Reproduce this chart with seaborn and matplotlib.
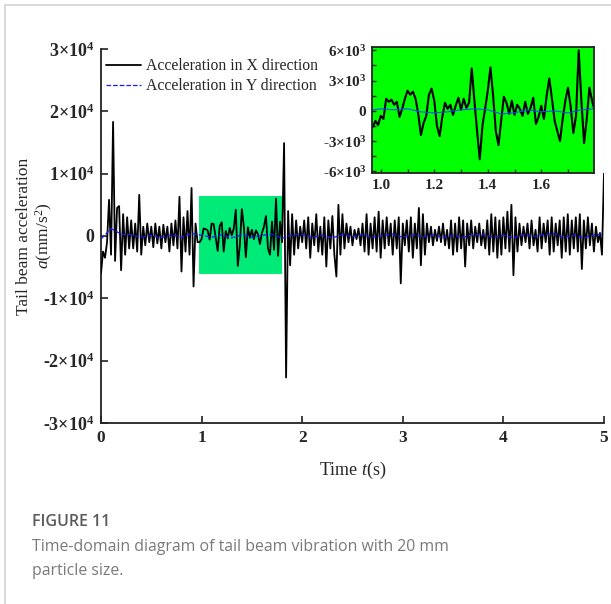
import numpy as np
import pandas as pd
import matplotlib
matplotlib.use('Agg')
import matplotlib.pyplot as plt
import seaborn as sns
from matplotlib.lines import Line2D
from matplotlib.patches import Rectangle
from matplotlib.ticker import MultipleLocator

# acceleration in X direction, 10^3 mm/s^2, sampled every 0.02 s from 0 to 5 s
acc_x = [
    -6.0, -2.5, -3.5, -1.0, 5.8, -3.0, 18.3, -4.0, 4.5, 4.8,
    -5.5, 3.5, -3.0, 3.0, -2.0, 2.5, -2.0, 2.0, -2.5, 6.6,
    -3.0, 1.5, -1.5, 2.0, -1.0, 1.5, -1.8, 2.0, -1.2, 1.5,
    -2.0, 1.8, -1.0, 1.5, -2.5, 2.0, -1.5, 2.5, -2.0, 6.3,
    -5.7, 3.0, -2.5, 4.0, -3.0, 7.7, -8.1, 2.0, -1.0, -1.0,
    -0.5, 1.2, 1.1, 0.9, -0.6, 2.0, 1.9, -0.3, -2.4, 1.6,
    2.2, -2.5, 0.8, -0.4, 1.3, 0.1, 1.2, 4.2, -4.8, -1.5,
    4.3, 1.5, -3.4, 1.4, -0.3, 1.0, -0.5, 0.9, 0.3, -1.3,
    0.5, 1.5, 3.2, -2.0, -3.0, 2.3, -2.2, 6.0, -3.2, 2.3,
    -1.0, 14.9, -22.7, 4.0, -4.7, 3.5, -3.0, 2.5, -2.0, 1.5,
    -1.0, 2.5, -2.0, 3.0, -3.5, 2.0, -1.5, 3.5, -2.5, 1.5,
    -3.0, 3.0, -4.9, 2.5, -2.0, 3.2, -3.0, -6.5, 5.0, -3.0,
    3.5, -2.0, 2.0, -1.0, 1.5, -1.5, 1.0, -0.5, 1.2, -1.5,
    2.0, -2.5, 3.5, -3.0, 2.0, -2.0, 3.0, -2.5, 3.9, -3.5,
    2.5, -2.0, 3.0, -1.5, 2.0, -3.0, 2.5, -2.0, 3.0, -7.6,
    2.0, -1.5, 2.5, -2.5, 3.0, -3.5, 2.0, -2.0, 4.5, -4.7,
    3.5, -3.0, 2.0, -1.0, 1.5, -1.5, 1.0, -0.8, 1.5, -1.0,
    2.0, -1.5, 1.0, -2.0, 2.5, -3.0, 2.0, -2.5, 3.0, -2.0,
    2.5, -4.9, 2.0, -1.5, 2.5, -2.0, 1.5, -1.0, 2.0, -1.5,
    1.0, -2.0, 2.5, -3.0, 3.5, -2.5, 3.0, -3.5, 2.5, -3.0,
    3.0, -2.0, 3.9, -2.5, 5.0, -6.3, 3.0, -2.5, 2.0, -1.5,
    1.5, -1.0, 2.0, -2.0, 2.5, -1.5, 1.0, -2.5, 3.0, -2.0,
    2.0, -1.0, 2.5, -3.0, 3.0, -2.5, 2.0, -1.5, 2.5, -3.5,
    3.0, -2.5, 3.5, -3.0, 2.5, -2.0, 3.0, -2.5, 3.5, -5.3,
    2.5, -2.0, 3.0, -1.5, 2.0, -2.5, 1.5, -1.0, 0.5, -3.0,
    10.0,
]

# acceleration in Y direction, 10^3 mm/s^2, every 0.1 s from 0 to 5 s
acc_y = [
    -0.5, 1.2, 0.3, 0.2, -0.2, 0.1, -0.3, 0.2, -0.2, 0.4,
    0.1, -0.2, 0.2, -0.3, 0.2, -0.2, 0.1, 0.3, -0.4, 0.2,
    0.3, -0.2, 0.1, -0.3, 0.2, -0.1, 0.2, -0.2, 0.1, 0.3,
    -0.2, 0.2, -0.1, 0.2, -0.3, 0.1, -0.2, 0.2, 0.3, -0.2,
    0.1, -0.3, 0.2, -0.1, 0.2, 0.4, -0.2, 0.1, -0.3, 0.2,
    0.3,
]

# zoomed window, X direction, every 0.01 s from 0.97 to 1.80 s
zoom_x = [
    -1.6, -1.0, -1.4, -0.5, -0.8, 1.2, 0.9, 1.1, 0.6, 0.9,
    -0.6, 0.2, 1.2, 2.0, 1.6, 1.9, 1.2, -0.3, -2.4, -1.2,
    -0.5, 1.6, 2.2, 1.0, -1.5, -2.5, -0.6, 0.8, 0.2, 0.6,
    -0.4, 0.5, 1.3, 0.1, 1.2, 0.3, 0.8, 4.2, 1.0, -2.0,
    -4.8, -1.5, 0.2, 2.0, 4.3, 1.5, -2.0, -3.4, -1.0, 1.4,
    0.8, -0.3, 1.0, -0.4, 0.6, 0.2, -0.5, 0.9, -0.3, 0.3,
    1.3, -1.3, -0.6, 0.5, -0.8, 1.5, 3.2, 1.2, -1.0, -2.0,
    -3.0, -0.8, 1.0, 2.3, 0.4, -2.2, -0.5, 6.0, 1.0, -3.2,
    -0.8, 2.3, 1.0, 0.0,
]

# zoomed window, Y direction, every 0.05 s from 0.95 to 1.80 s
zoom_y = [0.0, 0.2, 0.1, 0.2, -0.1, -0.2, -0.1, 0.1, 0.2, 0.1,
          -0.3, -0.2, 0.1, -0.1, 0.0, -0.2, 0.1, 0.2]

window = (0.97, 1.80)
window_acc = (-6.1e3, 6.4e3)

main_yticks = [-3e4, -2e4, -1e4, 0, 1e4, 2e4, 3e4]
main_ylabels = ['-3×10$^{4}$', '-2×10$^{4}$', '-1×10$^{4}$', '0',
                '1×10$^{4}$', '2×10$^{4}$', '3×10$^{4}$']
main_xticks = [0, 1, 2, 3, 4, 5]
zoom_yticks = [-6e3, -3e3, 0, 3e3, 6e3]
zoom_ylabels = ['-6×10$^{3}$', '-3×10$^{3}$', '0', '3×10$^{3}$', '6×10$^{3}$']
zoom_xticks = [1.0, 1.2, 1.4, 1.6]

sns.set_style('ticks')
plt.rcParams['font.family'] = ['Liberation Serif', 'DejaVu Serif']
plt.rcParams['mathtext.fontset'] = 'custom'
plt.rcParams['mathtext.rm'] = 'Liberation Serif'
plt.rcParams['mathtext.it'] = 'Liberation Serif:italic'
plt.rcParams['mathtext.bf'] = 'Liberation Serif:bold'
plt.rcParams['mathtext.default'] = 'regular'

dfx = pd.DataFrame({'t': np.linspace(0, 5, len(acc_x)), 'a': np.array(acc_x) * 1e3})
dfy = pd.DataFrame({'t': np.linspace(0, 5, len(acc_y)), 'a': np.array(acc_y) * 1e3})
zx = pd.DataFrame({'t': np.linspace(0.97, 1.80, len(zoom_x)), 'a': np.array(zoom_x) * 1e3})
zy = pd.DataFrame({'t': np.linspace(0.95, 1.80, len(zoom_y)), 'a': np.array(zoom_y) * 1e3})

fig = plt.figure(figsize=(6.11, 6.04), dpi=100)
ax = fig.add_axes([0.1653, 0.2997, 0.8232, 0.6192])

ax.add_patch(Rectangle((window[0], window_acc[0]), window[1] - window[0],
                       window_acc[1] - window_acc[0], color='#00ea78', zorder=1, lw=0))
sns.lineplot(data=dfx, x='t', y='a', ax=ax, color='black', lw=1.3,
             estimator=None, sort=False, label='Acceleration in X direction', zorder=3)
sns.lineplot(data=dfy, x='t', y='a', ax=ax, color='#1a1aff', lw=0.9, linestyle='--',
             estimator=None, sort=False, label='Acceleration in Y direction', zorder=4)

ax.set_xlim(0, 5)
ax.set_ylim(-3e4, 3e4)
ax.set_xticks(main_xticks)
ax.set_xticklabels([str(v) for v in main_xticks], fontweight='bold', fontsize=12.5)
ax.set_yticks(main_yticks)
ax.set_yticklabels(main_ylabels, fontweight='bold', fontsize=13)
ax.tick_params(direction='in', length=5, width=1.2, color='#222222', pad=5)
for s in ['left', 'bottom']:
    ax.spines[s].set_linewidth(1.3)
    ax.spines[s].set_color('#222222')
ax.spines['top'].set_visible(False)
ax.spines['right'].set_visible(False)
ax.set_xlabel('Time $\\mathit{t}$(s)', fontsize=13, labelpad=10)
ax.set_ylabel('Tail beam acceleration', fontsize=12.5)
ax.yaxis.set_label_coords(-0.137, 0.5)
ax.text(-0.112, 0.5, '$\\mathit{a}$(mm/s$^{2}$)', transform=ax.transAxes, rotation=90,
        ha='center', va='center', fontsize=12.5)
ax.legend(loc='upper left', bbox_to_anchor=(-0.008, 1.0), frameon=False, fontsize=11.3,
          handlelength=2.2, handletextpad=0.3, borderaxespad=0.2, labelspacing=0.25)

ins = fig.add_axes([0.6088, 0.7136, 0.3633, 0.2086])
ins.set_facecolor('#00ff00')
sns.lineplot(data=zx, x='t', y='a', ax=ins, color='black', lw=1.5,
             estimator=None, sort=False, legend=False)
sns.lineplot(data=zy, x='t', y='a', ax=ins, color='#1a4aff', lw=0.8,
             estimator=None, sort=False, legend=False)
ins.set_xlim(0.967, 1.797)
ins.set_ylim(-6.16e3, 6.33e3)
ins.set_xticks(zoom_xticks)
ins.set_xticklabels(['%.1f' % v for v in zoom_xticks], fontweight='bold', fontsize=11)
ins.set_yticks(zoom_yticks)
ins.set_yticklabels(zoom_ylabels, fontweight='bold', fontsize=11)
ins.xaxis.set_minor_locator(MultipleLocator(0.1))
ins.yaxis.set_minor_locator(MultipleLocator(1.5e3))
ins.tick_params(which='both', direction='in', length=3, width=1, pad=4)
ins.set_xlabel('')
ins.set_ylabel('')
for s in ins.spines.values():
    s.set_linewidth(1.3)
    s.set_color('#222222')

# page frame and caption
fig.add_artist(Line2D([4.5 / 611, 4.5 / 611], [0, 1 - 5 / 604], transform=fig.transFigure,
                      color='#d3d3d3', lw=1.2))
fig.add_artist(Line2D([4.5 / 611, 1], [1 - 5 / 604, 1 - 5 / 604], transform=fig.transFigure,
                      color='#d3d3d3', lw=1.2))
fig.text(32 / 611, 1 - 522 / 604, 'FIGURE 11', family='Open Sans', fontweight='semibold',
         fontsize=11.5, color='#5a5a5a', va='center')
fig.text(32 / 611, 1 - 547 / 604, 'Time-domain diagram of tail beam vibration with 20 mm',
         family='Open Sans', fontsize=11.4, color='#7a7a7a', va='center')
fig.text(32 / 611, 1 - 571 / 604, 'particle size.',
         family='Open Sans', fontsize=11.4, color='#7a7a7a', va='center')

fig.savefig('out.png', dpi=100)
